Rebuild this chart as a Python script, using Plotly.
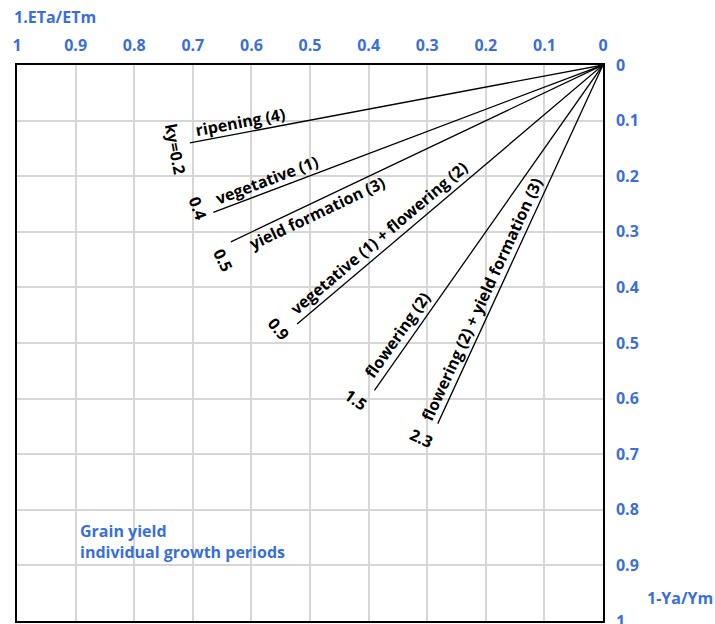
import math
import plotly.graph_objects as go

# ---------------- data ----------------
stage_labels = [
    "ripening (4)",
    "vegetative (1)",
    "yield formation (3)",
    "vegetative (1) + flowering (2)",
    "flowering (2)",
    "flowering (2) + yield formation (3)",
]
ky_labels = ["ky=0.2", "0.4", "0.5", "0.9", "1.5", "2.3"]
# relative evapotranspiration deficit (1-ETa/ETm) at the end of each line
end_eta_deficit = [0.705, 0.665, 0.635, 0.522, 0.39, 0.282]
# relative yield decrease (1-Ya/Ym) at the end of each line
end_yield_deficit = [0.14, 0.265, 0.318, 0.466, 0.585, 0.645]

tick_vals = [0, 0.1, 0.2, 0.3, 0.4, 0.5, 0.6, 0.7, 0.8, 0.9, 1]
tick_text = ["0", "0.1", "0.2", "0.3", "0.4", "0.5", "0.6", "0.7", "0.8", "0.9", "1"]

x_title = "1.ETa/ETm"
y_title = "1-Ya/Ym"
note_text = "Grain yield<br>individual growth periods"

# ---------------- style / layout ----------------
W, H = 715, 624
M = dict(l=17, r=112, t=65, b=3)
PW = W - M["l"] - M["r"]
PH = H - M["t"] - M["b"]
BLUE = "#3A6FD8"
FONT = "Open Sans"
LABEL_SIZE = 16
TICK_SIZE = 16
WEIGHT = 700

# label offsets in pixels from the line end: (along the line towards origin, perpendicular "up")
stage_offsets = [(53.5, 11.0), (61.4, 11.0), (90.3, -10.5), (118.0, 13.0), (58.6, 13.5), (130.9, 12.5)]
ky_offsets = [(-15.9, -3.7), (-13.4, 9.3), (-14.7, -13.0), (-17.3, 8.0), (-18.9, 9.3), (-19.8, 8.8)]


def place(xe, ye, along, perp):
    th = math.atan2(ye * PH, xe * PW)
    c, s = math.cos(th), math.sin(th)
    sx = along * c - perp * s
    sy = -along * s - perp * c
    return xe - sx / PW, ye + sy / PH, math.degrees(th)


fig = go.Figure()

for i in range(len(stage_labels)):
    fig.add_trace(
        go.Scatter(
            x=[0, end_eta_deficit[i]],
            y=[0, end_yield_deficit[i]],
            mode="lines",
            line=dict(color="black", width=1.3),
            hoverinfo="skip",
            showlegend=False,
        )
    )

annotations = []
for i in range(len(stage_labels)):
    xe, ye = end_eta_deficit[i], end_yield_deficit[i]
    ax, ay, deg = place(xe, ye, *stage_offsets[i])
    annotations.append(
        dict(
            x=ax, y=ay, xref="x", yref="y", text=stage_labels[i], showarrow=False,
            textangle=-deg, xanchor="center", yanchor="middle",
            font=dict(family=FONT, size=LABEL_SIZE, color="black", weight=WEIGHT),
        )
    )
    kx, ky, deg = place(xe, ye, *ky_offsets[i])
    annotations.append(
        dict(
            x=kx, y=ky, xref="x", yref="y", text=ky_labels[i], showarrow=False,
            textangle=90 - deg, xanchor="center", yanchor="middle",
            font=dict(family=FONT, size=LABEL_SIZE, color="black", weight=WEIGHT),
        )
    )

annotations.append(
    dict(
        x=0, y=1, xref="paper", yref="paper", text=x_title, showarrow=False,
        xanchor="left", yanchor="middle", xshift=-5, yshift=48,
        font=dict(family=FONT, size=TICK_SIZE, color=BLUE, weight=WEIGHT),
    )
)
annotations.append(
    dict(
        x=1, y=0, xref="paper", yref="paper", text=y_title, showarrow=False,
        xanchor="left", yanchor="middle", xshift=42, yshift=23,
        font=dict(family=FONT, size=TICK_SIZE, color=BLUE, weight=WEIGHT),
    )
)
annotations.append(
    dict(
        x=0.896, y=0.815, xref="x", yref="y", text=note_text, showarrow=False,
        xanchor="left", yanchor="top", align="left",
        font=dict(family=FONT, size=TICK_SIZE, color=BLUE, weight=WEIGHT),
    )
)

axis_common = dict(
    range=[1, 0],
    tickvals=tick_vals,
    ticktext=tick_text,
    showgrid=True,
    gridcolor="#d6d6d6",
    gridwidth=1.5,
    zeroline=False,
    showline=True,
    linecolor="black",
    linewidth=1.5,
    mirror=True,
    ticks="",
    automargin=False,
    ticklabeloverflow="allow",
    tickfont=dict(family=FONT, size=TICK_SIZE, color=BLUE, weight=WEIGHT),
    fixedrange=True,
)

fig.update_layout(
    width=W,
    height=H,
    margin=dict(M, autoexpand=False),
    paper_bgcolor="white",
    plot_bgcolor="white",
    xaxis=dict(side="top", ticklabelstandoff=6, **axis_common),
    yaxis=dict(side="right", ticklabelstandoff=8, **axis_common),
    annotations=annotations,
    showlegend=False,
)

fig.write_html("out.html")
